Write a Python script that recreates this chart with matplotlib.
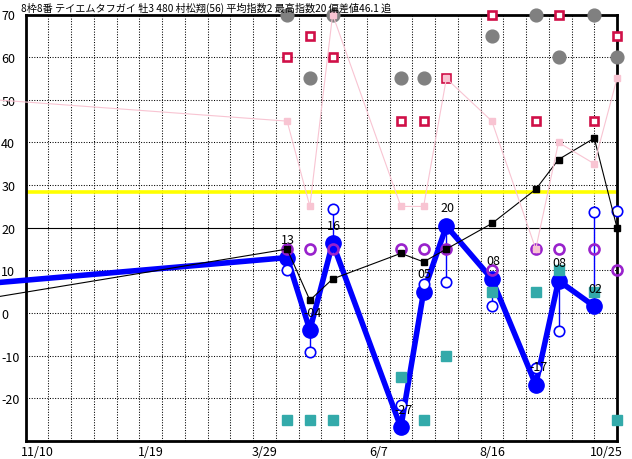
"""Race index history chart (指数推移) recreated with matplotlib."""

import matplotlib
matplotlib.use("Agg")
import matplotlib.pyplot as plt
import matplotlib.transforms as mtransforms
import numpy as np
import pandas as pd

plt.rcParams['font.family'] = ['Noto Sans CJK JP', 'DejaVu Sans']

TITLE = "8枠8番 テイエムタフガイ 牡3 480 村松翔(56) 平均指数2 最高指数20 偏差値46.1 追"

START = pd.Timestamp("2023-11-10")
END = pd.Timestamp("2024-11-08")

# first entry is an earlier race outside the visible range
race_dates = ["2023-03-21", "2024-04-19", "2024-05-03", "2024-05-17", "2024-06-28",
              "2024-07-12", "2024-07-26", "2024-08-23", "2024-09-19", "2024-10-03",
              "2024-10-25", "2024-11-08"]

nan = np.nan
index_vals = [0.0, 13, -4, 16.4, -26.8, 5, 20.4, 8, -16.8, 7.6, 1.6, nan]   # big blue
sub_vals = [nan, 10, -9.2, 24.4, -21.5, 6.8, 7.2, 1.6, -13, -4.2, 23.6, 24]  # open blue
purple_vals = [nan, 15, 15, 15, 15, 15, 15, 10, 15, 15, 15, 10]
avg_vals = [-9.8, 15, 3, 8, 14, 12, 15, 21, 29, 36, 41, 20]                  # black
pink_vals = [56, 45, 25, 70, 25, 25, 55, 45, 15, 40, 35, 55]
red_vals = [nan, 60, 65, 60, 45, 45, 55, 70, 45, 70, 45, 65]
grey_vals = [nan, 70, 55, 70, 55, 55, nan, 65, 70, 60, 70, 60]
teal_vals = [nan, -25, -25, -25, -15, -25, -10, 5, 5, 10, 5, -25]

BASE_LINE = 28.3   # yellow line
REF_LINE = 20

tick_dates = ["2023-11-10", "2024-01-19", "2024-03-29", "2024-06-07", "2024-08-16", "2024-10-25"]
tick_labels = ["11/10", "1/19", "3/29", "6/7", "8/16", "10/25"]
y_ticks = [70, 60, 50, 40, 30, 20, 10, 0, -10, -20]


def to_days(dates):
    return (pd.to_datetime(dates) - START).days.values


x = to_days(race_dates)
idx = np.array(index_vals, dtype=float)
sub = np.array(sub_vals, dtype=float)
span = (END - START).days

fig = plt.figure(figsize=(6.32, 4.6), dpi=100)
ax = fig.add_axes([25.5 / 632, 18 / 460, 591.5 / 632, 426.5 / 460])
ax.set_xlim(0, span)
ax.set_ylim(-30, 70)

# dotted grid
ax.vlines(np.arange(14, span, 14), -30, 70, colors='black', linewidth=0.75,
          linestyles=(0, (1, 1.5)), zorder=1)
ax.hlines([g for g in y_ticks if g not in (70, REF_LINE)], 0, span, colors='black',
          linewidth=0.75, linestyles=(0, (1, 1.5)), zorder=1)
ax.axhline(REF_LINE, color='black', linewidth=0.8, zorder=2)
ax.axhline(BASE_LINE, color='#ffff00', linewidth=2.6, zorder=2)

# vertical connectors between the two blue marks
ok = ~np.isnan(idx) & ~np.isnan(sub)
ax.vlines(x[ok], idx[ok], sub[ok], colors='#0000ff', linewidth=1.0, zorder=3)

# main index line
ax.plot(x, idx, color='#0000ff', linewidth=4, marker='o', markersize=11,
        clip_on=False, zorder=4)
ax.plot(x, sub, linestyle='none', marker='o', markersize=7.5, markerfacecolor='white',
        markeredgecolor='#0000ff', markeredgewidth=1.2, clip_on=False, zorder=5)
ax.plot(x, purple_vals, linestyle='none', marker='o', markersize=7.2,
        markerfacecolor='none', markeredgecolor='#9922cc', markeredgewidth=1.9,
        clip_on=False, zorder=6)
ax.plot(x, avg_vals, color='black', linewidth=0.8, marker='s', markersize=4.2,
        clip_on=False, zorder=7)
ax.plot(x, grey_vals, linestyle='none', marker='o', markersize=9.2, color='#808080',
        clip_on=False, zorder=8)
ax.plot(x, red_vals, linestyle='none', marker='s', markersize=6.0,
        markerfacecolor='white', markeredgecolor='#d01048', markeredgewidth=1.9,
        clip_on=False, zorder=9)
ax.plot(x, pink_vals, color='#f8c4d2', linewidth=0.8, marker='s', markersize=4.2,
        clip_on=False, zorder=10)
ax.plot(x, teal_vals, linestyle='none', marker='s', markersize=6.6, color='#33aaaa',
        clip_on=False, zorder=11)

# index labels above the big circles
for xi, v in zip(x, idx):
    if np.isnan(v) or xi < 0:
        continue
    r = int(round(v))
    lbl = f"{'-' if r < 0 else ''}{abs(r):02d}"
    ax.annotate(lbl, (xi, v), xytext=(-4.3, 13), textcoords='offset points',
                ha='left', va='center', fontsize=9, zorder=12)

# axes styling
for s in ax.spines.values():
    s.set_linewidth(2)
ax.set_xticks([])
ax.set_yticks(y_ticks)
ax.set_yticklabels([str(t) for t in y_ticks], fontsize=9)
ax.tick_params(axis='y', length=0, pad=17.5)
for lbl in ax.get_yticklabels():
    lbl.set_horizontalalignment('left')

trans = mtransforms.blended_transform_factory(ax.transData, ax.transAxes)
trans = mtransforms.offset_copy(trans, fig=fig, x=12, y=-11, units='dots')
for d, t in zip(to_days(tick_dates), tick_labels):
    ax.text(d, 0, t, transform=trans, ha='center', va='center', fontsize=9)

fig.text(21 / 632, 1 - 8 / 460, TITLE, ha='left', va='center', fontsize=7.3)

fig.savefig("out.png", dpi=100, facecolor='white')
